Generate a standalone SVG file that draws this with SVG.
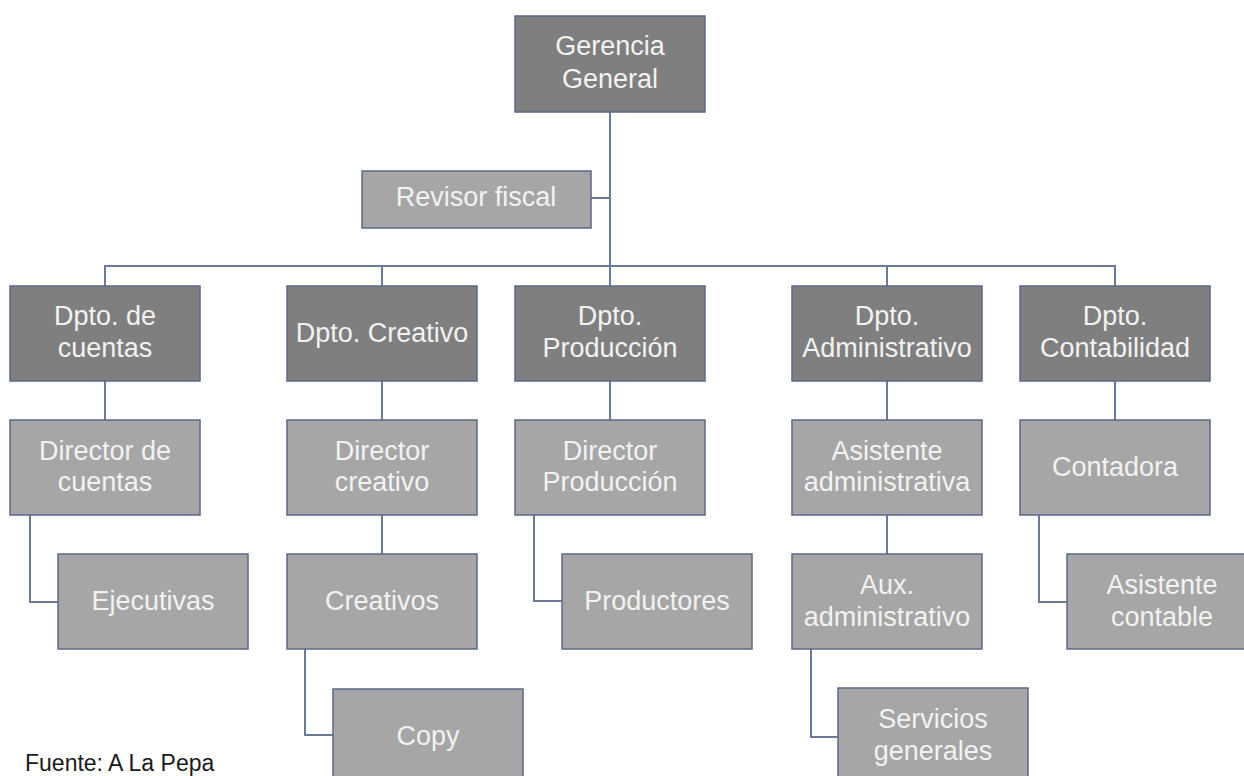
<svg xmlns="http://www.w3.org/2000/svg" width="1244" height="776" viewBox="0 0 1244 776">
<style>
.dk{fill:#7f7f7f;stroke:#5b6a88;stroke-width:1.5}
.lt{fill:#a6a6a6;stroke:#5b6a88;stroke-width:1.5}
.t{font-family:"Liberation Sans",Arial,sans-serif;font-size:27px;fill:#f2f2f2;text-anchor:middle}
.c{fill:none;stroke:#6b7a98;stroke-width:2}
.src{font-family:"Liberation Sans",Arial,sans-serif;font-size:23px;fill:#1a1a1a}
</style>
<rect width="1244" height="776" fill="#ffffff"/>
<g id="connectors">
<path class="c" d="M610 112V286"/>
<path class="c" d="M591 198H610"/>
<path class="c" d="M105 286V266H1115V286"/>
<path class="c" d="M382 266V286M887 266V286"/>
<path class="c" d="M105 381V420M382 381V420M610 381V420M887 381V420M1115 381V420"/>
<path class="c" d="M382 515V554M887 515V554"/>
<path class="c" d="M30 515V602H58"/>
<path class="c" d="M305 649V735H333"/>
<path class="c" d="M534 515V601H562"/>
<path class="c" d="M811 649V737H838"/>
<path class="c" d="M1039 515V602H1067"/>
</g>
<g id="gerencia"><rect class="dk" x="515" y="16" width="190" height="96"/><text class="t" x="610" y="55">Gerencia</text><text class="t" x="610" y="88">General</text></g>
<g id="revisor"><rect class="lt" x="362" y="171" width="229" height="57"/><text class="t" x="476" y="206">Revisor fiscal</text></g>
<g id="dpto-cuentas"><rect class="dk" x="10" y="286" width="190" height="95"/><text class="t" x="105" y="325">Dpto. de</text><text class="t" x="105" y="357">cuentas</text></g>
<g id="dpto-creativo"><rect class="dk" x="287" y="286" width="190" height="95"/><text class="t" x="382" y="342">Dpto. Creativo</text></g>
<g id="dpto-produccion"><rect class="dk" x="515" y="286" width="190" height="95"/><text class="t" x="610" y="325">Dpto.</text><text class="t" x="610" y="357">Producción</text></g>
<g id="dpto-administrativo"><rect class="dk" x="792" y="286" width="190" height="95"/><text class="t" x="887" y="325">Dpto.</text><text class="t" x="887" y="357">Administrativo</text></g>
<g id="dpto-contabilidad"><rect class="dk" x="1020" y="286" width="190" height="95"/><text class="t" x="1115" y="325">Dpto.</text><text class="t" x="1115" y="357">Contabilidad</text></g>
<g id="director-cuentas"><rect class="lt" x="10" y="420" width="190" height="95"/><text class="t" x="105" y="460">Director de</text><text class="t" x="105" y="491">cuentas</text></g>
<g id="director-creativo"><rect class="lt" x="287" y="420" width="190" height="95"/><text class="t" x="382" y="460">Director</text><text class="t" x="382" y="491">creativo</text></g>
<g id="director-produccion"><rect class="lt" x="515" y="420" width="190" height="95"/><text class="t" x="610" y="460">Director</text><text class="t" x="610" y="491">Producción</text></g>
<g id="asistente-administrativa"><rect class="lt" x="792" y="420" width="190" height="95"/><text class="t" x="887" y="460">Asistente</text><text class="t" x="887" y="491">administrativa</text></g>
<g id="contadora"><rect class="lt" x="1020" y="420" width="190" height="95"/><text class="t" x="1115" y="476">Contadora</text></g>
<g id="ejecutivas"><rect class="lt" x="58" y="554" width="190" height="95"/><text class="t" x="153" y="610">Ejecutivas</text></g>
<g id="creativos"><rect class="lt" x="287" y="554" width="190" height="95"/><text class="t" x="382" y="610">Creativos</text></g>
<g id="productores"><rect class="lt" x="562" y="554" width="190" height="95"/><text class="t" x="657" y="610">Productores</text></g>
<g id="aux-administrativo"><rect class="lt" x="792" y="554" width="190" height="95"/><text class="t" x="887" y="594">Aux.</text><text class="t" x="887" y="626">administrativo</text></g>
<g id="asistente-contable"><rect class="lt" x="1067" y="554" width="190" height="95"/><text class="t" x="1162" y="594">Asistente</text><text class="t" x="1162" y="626">contable</text></g>
<g id="copy"><rect class="lt" x="333" y="689" width="190" height="95"/><text class="t" x="428" y="745">Copy</text></g>
<g id="servicios-generales"><rect class="lt" x="838" y="688" width="190" height="95"/><text class="t" x="933" y="728">Servicios</text><text class="t" x="933" y="760">generales</text></g>
<text class="src" x="25" y="771">Fuente: A La Pepa</text>
</svg>
